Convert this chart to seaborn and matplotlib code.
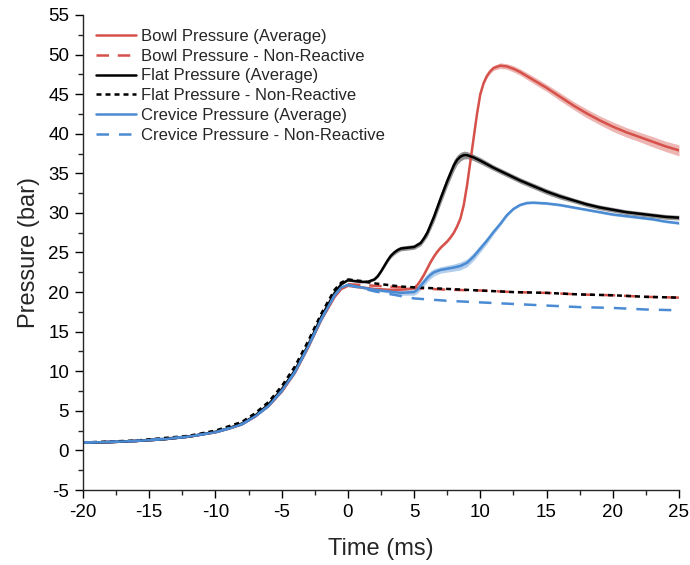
import numpy as np
import pandas as pd
import matplotlib
matplotlib.use("Agg")
import matplotlib.pyplot as plt
from matplotlib.ticker import MultipleLocator
import seaborn as sns

# ---- Data: in-cylinder pressure vs. time (ms), values in bar ----
t_comp = [-20, -18, -16, -14, -12, -10, -9, -8, -7, -6, -5, -4, -3, -2, -1, -0.5, 0]

t_bowl = t_comp + [1, 2, 3, 4, 5, 5.25, 5.5, 5.75, 6, 6.25, 6.5, 6.75, 7, 7.25, 7.5, 7.75, 8,
                   8.25, 8.5, 8.75, 9, 9.25, 9.5, 9.75, 10, 10.25, 10.5, 10.75, 11, 11.5, 12,
                   12.5, 13, 14, 15, 16, 17, 18, 19, 20, 21, 22, 23, 24, 25]
p_bowl = [1.0, 1.05, 1.2, 1.4, 1.75, 2.3, 2.75, 3.3, 4.3, 5.6, 7.4, 9.8, 13.0, 16.5, 19.4, 20.4, 20.8,
          20.6, 20.4, 20.3, 20.3, 20.5, 20.9, 21.5, 22.2, 23.0, 23.8, 24.5, 25.1, 25.6, 26.0, 26.4, 26.9, 27.5,
          28.3, 29.3, 31.0, 33.5, 36.5, 39.5, 42.5, 45.0, 46.4, 47.3, 47.9, 48.3, 48.6, 48.5,
          48.2, 47.8, 46.8, 45.8, 44.7, 43.6, 42.6, 41.7, 40.9, 40.2, 39.6, 39.0, 38.4, 37.9]
s_bowl = ([0.1] * 17 + [0.15] * 17 + [0.15] * 8 + [0.2, 0.25, 0.3, 0.3, 0.35, 0.35]
          + [0.4, 0.4, 0.45, 0.45, 0.5, 0.5, 0.55, 0.55, 0.6, 0.6, 0.6, 0.65, 0.65, 0.7])

t_bowl_nr = [-20, -16, -12, -10, -8, -7, -6, -5, -4, -3, -2, -1, -0.5, 0,
             1, 2, 3, 4, 5, 7.5, 10, 12.5, 15, 17.5, 20, 22.5, 25]
p_bowl_nr = [1.0, 1.2, 1.75, 2.3, 3.3, 4.3, 5.6, 7.5, 9.9, 13.1, 16.6, 19.5, 20.5, 21.0,
             20.9, 20.8, 20.7, 20.6, 20.5, 20.3, 20.2, 20.0, 19.9, 19.7, 19.6, 19.4, 19.3]

t_flat = t_comp + [0.5, 1, 1.5, 2, 2.25, 2.5, 2.75, 3, 3.25, 3.5, 3.75, 4, 4.5, 5, 5.5, 5.75, 6,
                   6.5, 7, 7.5, 8, 8.25, 8.5, 8.75, 9, 9.5, 10,
                   11, 12, 13, 14, 15, 16, 17, 18, 19, 20, 21, 22, 23, 24, 25]
p_flat = [1.0, 1.05, 1.2, 1.4, 1.75, 2.35, 2.8, 3.4, 4.4, 5.8, 7.7, 10.1, 13.3, 16.9, 19.9, 21.0, 21.5,
          21.4, 21.3, 21.3, 21.6, 22.0, 22.6, 23.3, 24.0, 24.6, 25.0, 25.3, 25.5, 25.6, 25.7, 26.2, 26.8, 27.5,
          29.5, 31.8, 34.0, 36.0, 36.7, 37.1, 37.3, 37.3, 37.0, 36.6,
          35.7, 34.9, 34.1, 33.4, 32.7, 32.1, 31.6, 31.1, 30.7, 30.4, 30.1, 29.9, 29.7, 29.5, 29.4]
s_flat = ([0.1] * 17
          + [0.15, 0.15, 0.15, 0.15, 0.18, 0.2, 0.22, 0.25, 0.28, 0.3, 0.3, 0.3, 0.3, 0.3, 0.35, 0.4, 0.5]
          + [0.65, 0.7, 0.7, 0.7, 0.6, 0.55, 0.5, 0.45, 0.4, 0.4]
          + [0.35] * 6 + [0.3] * 9)

t_flat_nr = [-20, -16, -12, -10, -8, -7, -6, -5, -4, -3, -2, -1, -0.5, 0,
             1, 2, 3, 4, 5, 7.5, 10, 12.5, 15, 17.5, 20, 22.5, 25]
p_flat_nr = [1.0, 1.25, 1.85, 2.5, 3.6, 4.7, 6.1, 8.1, 10.6, 13.8, 17.3, 20.3, 21.2, 21.6,
             21.4, 21.1, 20.9, 20.7, 20.6, 20.4, 20.2, 20.0, 19.9, 19.7, 19.6, 19.4, 19.3]

t_crev = t_comp + [1, 2, 3, 4, 5, 5.25, 5.5, 5.75, 6, 6.25, 6.5, 7, 8, 8.5, 9, 9.5, 10, 10.5,
                   11, 11.5, 12, 12.5, 13, 13.5,
                   14, 15, 16, 17, 18, 19, 20, 21, 22, 23, 24, 25]
p_crev = [1.0, 1.05, 1.2, 1.4, 1.75, 2.3, 2.75, 3.3, 4.3, 5.6, 7.5, 9.9, 13.1, 16.6, 19.6, 20.6, 20.9,
          20.6, 20.3, 20.1, 19.9, 20.0, 20.3, 20.8, 21.3, 21.8, 22.2, 22.5, 22.8, 23.1, 23.3, 23.7, 24.5,
          25.5, 26.5, 27.6, 28.6, 29.7, 30.5, 31.0, 31.25,
          31.3, 31.2, 31.0, 30.7, 30.4, 30.1, 29.8, 29.6, 29.4, 29.2, 28.9, 28.7]
s_crev = ([0.1] * 17
          + [0.15, 0.15, 0.2, 0.3, 0.4, 0.45, 0.5, 0.5, 0.5, 0.5, 0.45, 0.4, 0.45, 0.5, 0.5, 0.5,
             0.45, 0.4, 0.3, 0.25, 0.2, 0.15, 0.15, 0.15]
          + [0.15] * 12)

t_crev_nr = [-20, -16, -12, -10, -8, -7, -6, -5, -4, -3, -2, -1, -0.5, 0,
             1, 2, 3, 4, 5, 7.5, 10, 12.5, 15, 17.5, 20, 22.5, 25]
p_crev_nr = [1.0, 1.2, 1.75, 2.3, 3.3, 4.3, 5.6, 7.5, 9.9, 13.1, 16.6, 19.6, 20.6, 20.9,
             20.5, 20.1, 19.8, 19.5, 19.2, 18.9, 18.7, 18.5, 18.3, 18.1, 18.0, 17.8, 17.7]

x_ticks = [-20, -15, -10, -5, 0, 5, 10, 15, 20, 25]
y_ticks = [-5, 0, 5, 10, 15, 20, 25, 30, 35, 40, 45, 50, 55]

RED = "#d6514a"
BLUE = "#4a8bd3"
BLACK = "#000000"

# ---- Style ----
sns.set_style("ticks")
plt.rcParams["font.family"] = ["Liberation Sans", "DejaVu Sans"]
plt.rcParams["axes.linewidth"] = 1.0

fig = plt.figure(figsize=(6.9, 5.65), dpi=100)
ax = fig.add_axes([0.1203, 0.1327, 0.8637, 0.8408])

series = [
    # (t, p, spread, colour, dashes, label)
    (t_bowl, p_bowl, s_bowl, RED, None, "Bowl Pressure (Average)"),
    (t_bowl_nr, p_bowl_nr, None, RED, (5, 3.5), "Bowl Pressure - Non-Reactive"),
    (t_flat, p_flat, s_flat, BLACK, None, "Flat Pressure (Average)"),
    (t_flat_nr, p_flat_nr, None, BLACK, (2, 1.6), "Flat Pressure - Non-Reactive"),
    (t_crev, p_crev, s_crev, BLUE, None, "Crevice Pressure (Average)"),
    (t_crev_nr, p_crev_nr, None, BLUE, (5, 4), "Crevice Pressure - Non-Reactive"),
]

for t, p, s, col, dash, lab in series:
    df = pd.DataFrame({"Time (ms)": t, "Pressure (bar)": p})
    if s is not None:
        lo = np.array(p) - np.array(s)
        hi = np.array(p) + np.array(s)
        ax.fill_between(t, lo, hi, color=col, alpha=0.42, lw=0)
    sns.lineplot(data=df, x="Time (ms)", y="Pressure (bar)", ax=ax,
                 sort=False, color=col, lw=1.8, label=lab)
    if dash is not None:
        ax.lines[-1].set_dashes(dash)

ax.set_xlim(-20, 25)
ax.set_ylim(-5, 55)
ax.set_xticks(x_ticks)
ax.set_yticks(y_ticks)
ax.set_xticklabels([str(v) for v in x_ticks])
ax.set_yticklabels([str(v) for v in y_ticks])
ax.xaxis.set_minor_locator(MultipleLocator(2.5))
ax.yaxis.set_minor_locator(MultipleLocator(2.5))
ax.tick_params(which="major", direction="out", length=6, width=1.0,
               labelsize=13.5, colors="black", pad=4)
ax.tick_params(which="minor", direction="out", length=3.5, width=1.0)
sns.despine(ax=ax)

ax.set_xlabel("Time (ms)", fontsize=17, labelpad=12)
ax.set_ylabel("Pressure (bar)", fontsize=17, labelpad=6)

leg = ax.legend(loc="upper left", bbox_to_anchor=(0.01, 0.985), frameon=False,
                fontsize=12, handlelength=2.4, handletextpad=0.3,
                labelspacing=0.29, borderaxespad=0.0)

fig.savefig("out.png", dpi=100)
